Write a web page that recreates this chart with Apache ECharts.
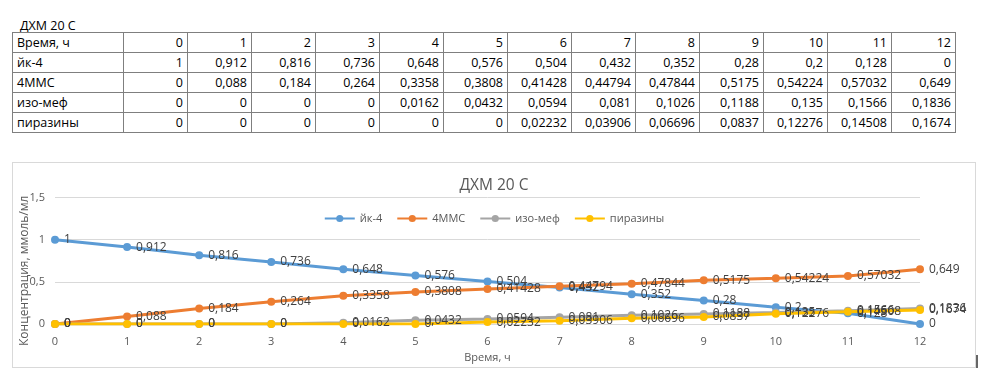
<!DOCTYPE html>
<html><head><meta charset="utf-8">
<script src="https://cdn.jsdelivr.net/npm/echarts@6/dist/echarts.min.js"></script>
<style>
html,body{margin:0;padding:0;background:#fff;width:990px;height:388px;overflow:hidden;font-family:"Open Sans","Liberation Sans",sans-serif;}
#ttl{position:absolute;left:20px;top:17px;font-size:12.5px;color:#000;}
table{position:absolute;left:12px;top:32px;border-collapse:collapse;font-size:12.5px;color:#000;}
td{border:1px solid #7f7f7f;height:19px;padding:0 4px;text-align:right;width:55px;line-height:18px;}
td.h{text-align:left;width:102px;}
#chart{position:absolute;left:12px;top:162px;width:964px;height:206px;border:1px solid #d9d9d9;box-sizing:border-box;}
#mark{position:absolute;left:976px;top:355px;width:2px;height:13px;background:#666;}
</style></head><body>
<div id="ttl">ДХМ 20 С</div>
<table id="tbl"></table>
<div id="chart"></div>
<div id="mark"></div>
<script>
const title = "ДХМ 20 С";
const hours = [0,1,2,3,4,5,6,7,8,9,10,11,12];
const seriesNames = ["йк-4","4ММС","изо-меф","пиразины"];
const yk4 = [1,0.912,0.816,0.736,0.648,0.576,0.504,0.432,0.352,0.28,0.2,0.128,0];
const mmc4 = [0,0.088,0.184,0.264,0.3358,0.3808,0.41428,0.44794,0.47844,0.5175,0.54224,0.57032,0.649];
const izomef = [0,0,0,0,0.0162,0.0432,0.0594,0.081,0.1026,0.1188,0.135,0.1566,0.1836];
const pyrazines = [0,0,0,0,0,0,0.02232,0.03906,0.06696,0.0837,0.12276,0.14508,0.1674];
const yTicks = [0,0.5,1,1.5];
const colors = ["#5B9BD5","#ED7D31","#A5A5A5","#FFC000"];
const values = [yk4, mmc4, izomef, pyrazines];
const fmt = v => String(v).replace('.', ',');

// table
let html = '<tr><td class="h">Время, ч</td>' + hours.map(h=>'<td>'+h+'</td>').join('') + '</tr>';
seriesNames.forEach((n,i)=>{
  html += '<tr><td class="h">'+n+'</td>' + values[i].map(v=>'<td>'+fmt(v)+'</td>').join('') + '</tr>';
});
document.getElementById('tbl').innerHTML = html;

const chart = echarts.init(document.getElementById('chart'));
chart.setOption({
  animation:false,
  textStyle:{fontFamily:'"Open Sans","Liberation Sans",sans-serif'},
  title:{text:title,left:'center',top:10,textStyle:{fontSize:15.5,fontWeight:'normal',color:'#595959'}},
  legend:{top:45,left:'center',itemWidth:30,itemHeight:9,itemGap:14,data:seriesNames,
    textStyle:{fontSize:11,color:'#595959'}},
  grid:{left:42,right:55,top:34.5,bottom:43,containLabel:false,outerBoundsMode:'none'},
  xAxis:{type:'category',data:hours.map(String),boundaryGap:false,
    axisLine:{show:false},axisTick:{show:false},
    axisLabel:{color:'#595959',fontSize:11,margin:12},
    name:'Время, ч',nameLocation:'middle',nameGap:34,nameMoveOverlap:false,
    nameTextStyle:{color:'#595959',fontSize:11,verticalAlign:'middle'}},
  yAxis:{type:'value',min:yTicks[0],max:yTicks[yTicks.length-1],interval:0.5,
    axisLabel:{color:'#595959',fontSize:11,margin:10,formatter:v=>fmt(v)},
    splitLine:{lineStyle:{color:'#d9d9d9'}},
    name:'Концентрация, ммоль/мл',nameLocation:'middle',nameGap:30,nameMoveOverlap:false,
    nameTextStyle:{color:'#595959',fontSize:12,verticalAlign:'middle',padding:[0,20,0,0]}},
  series: seriesNames.map((n,i)=>({
    name:n,type:'line',data:values[i],symbol:'circle',symbolSize:8,
    lineStyle:{width:3,color:colors[i]},itemStyle:{color:colors[i]},
    label:{show:true,position:'right',distance:5,color:'#404040',fontSize:12,formatter:p=>fmt(p.value)}
  }))
});
</script>
</body></html>
